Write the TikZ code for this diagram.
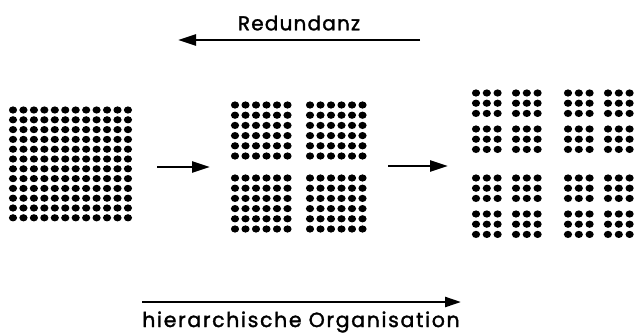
\documentclass[tikz,border=0pt]{standalone}
\usepackage{fontspec}
\setmainfont{Poppins}
\usetikzlibrary{arrows.meta}
\tikzset{
  dot/.style={fill=black},
  arr/.style={line width=2.4pt,-{Triangle[length=18pt,width=11pt]}},
  lbl/.style={font=\fontsize{20}{22}\selectfont\addfontfeature{LetterSpace=6,FakeBold=1.6}, inner sep=0pt}
}
\newcommand{\dotgrid}[6]{% x0 y0 nx ny dx dy
  \foreach \i in {1,...,#3}{\foreach \j in {1,...,#4}{
    \fill[dot] ({#1+(\i-1)*#5},{#2+(\j-1)*#6}) ellipse [x radius=4.1pt, y radius=3.6pt];}}}
\begin{document}
\begin{tikzpicture}[x=1pt,y=-1pt]
\useasboundingbox (0,0) rectangle (636,335);
% left 12x12
\dotgrid{13}{110}{12}{12}{10.45}{9.8}
% middle 4 blocks of 6x6
\foreach \bx in {235,310}{\foreach \by in {105,178}{\dotgrid{\bx}{\by}{6}{6}{10.5}{10.2}}}
% right 16 blocks of 3x3
\foreach \bx in {476,516,568,608}{\foreach \by in {93,129,178,214}{\dotgrid{\bx}{\by}{3}{3}{10.8}{10.2}}}
% arrows
\coordinate (a1s) at (157,167); \coordinate (a1e) at (210,167);
\coordinate (a2s) at (388,166); \coordinate (a2e) at (448,166);
\coordinate (rs) at (420,40); \coordinate (re) at (178,40);
\coordinate (hs) at (142,302); \coordinate (he) at (461,302);
\draw[arr] (a1s) -- (a1e);
\draw[arr] (a2s) -- (a2e);
\draw[arr] (rs) -- (re);
\draw[arr,-{Triangle[length=16pt,width=10pt]}] (hs) -- (he);
\node[lbl] (red) at (299,23) {Redundanz};
\node[lbl,font=\fontsize{20.5}{22}\selectfont\addfontfeature{LetterSpace=8,FakeBold=1.6}] (hier) at (301,322) {hierarchische Organisation};
\end{tikzpicture}
\end{document}
